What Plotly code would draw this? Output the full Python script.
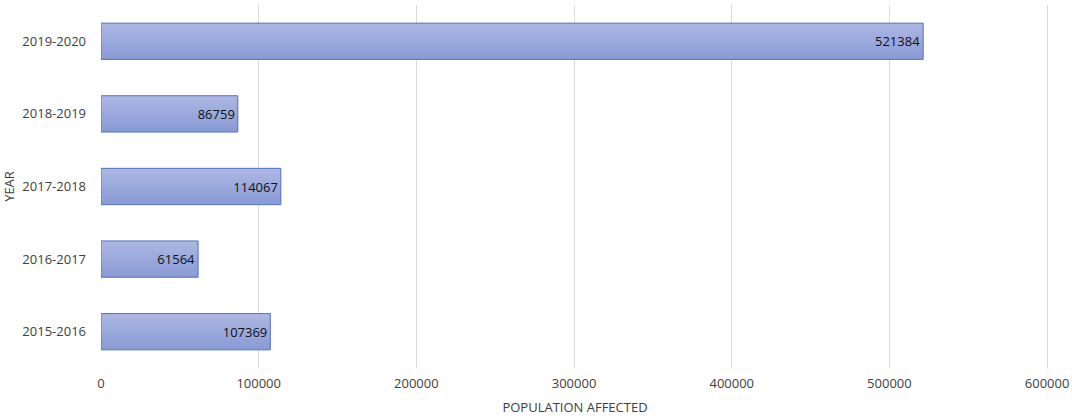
import plotly.graph_objects as go

years = ["2015-2016", "2016-2017", "2017-2018", "2018-2019", "2019-2020"]
population = [107369, 61564, 114067, 86759, 521384]
x_ticks = [0, 100000, 200000, 300000, 400000, 500000, 600000]

FONT = "Open Sans"
BAR_W = 0.5
N = 16
top_rgb = (172, 183, 226)
bot_rgb = (137, 155, 214)

fig = go.Figure()
# gradient stripes (top lighter, bottom darker)
w = BAR_W / N
for i in range(N):
    t = i / (N - 1)
    c = tuple(round(bot_rgb[k] + (top_rgb[k] - bot_rgb[k]) * t) for k in range(3))
    off = -BAR_W / 2 + i * w
    width = min(w * 2.5, BAR_W / 2 - off)
    fig.add_trace(go.Bar(
        y=years, x=population, orientation="h",
        width=width, offset=off,
        marker=dict(color="rgb(%d,%d,%d)" % c, line=dict(width=0)),
        hoverinfo="skip", showlegend=False,
    ))
# outline + labels
fig.add_trace(go.Bar(
    y=years, x=population, orientation="h",
    width=BAR_W,
    marker=dict(color="rgba(0,0,0,0)", line=dict(color="#5574c4", width=1)),
    text=[str(v) for v in population], textposition="inside",
    insidetextanchor="end",
    textfont=dict(family=FONT, size=13, color="#111111"),
    showlegend=False,
))

fig.update_layout(
    width=1072, height=416,
    margin=dict(l=101, r=23, t=5, b=48),
    barmode="overlay",
    plot_bgcolor="white", paper_bgcolor="white",
    font=dict(family=FONT, size=13, color="#404040"),
    xaxis=dict(
        range=[0, 601200], tickvals=x_ticks, ticktext=[str(v) for v in x_ticks],
        showgrid=True, gridcolor="#d9d9d9", gridwidth=1, zeroline=False,
        showline=False, ticks="", ticklabelstandoff=6,
        title=dict(text="POPULATION AFFECTED", font=dict(size=13, color="#404040"), standoff=12),
        automargin=False,
    ),
    yaxis=dict(
        categoryorder="array", categoryarray=years,
        showgrid=False, zeroline=False, showline=False, ticks="",
        ticklabelstandoff=14,
        title=dict(text="YEAR", font=dict(size=13, color="#404040"), standoff=14),
        automargin=False,
    ),
)

fig.write_html(
    "out.html",
    config={"displayModeBar": False},
    post_script="document.body.style.margin='0';document.body.style.padding='0';",
)
